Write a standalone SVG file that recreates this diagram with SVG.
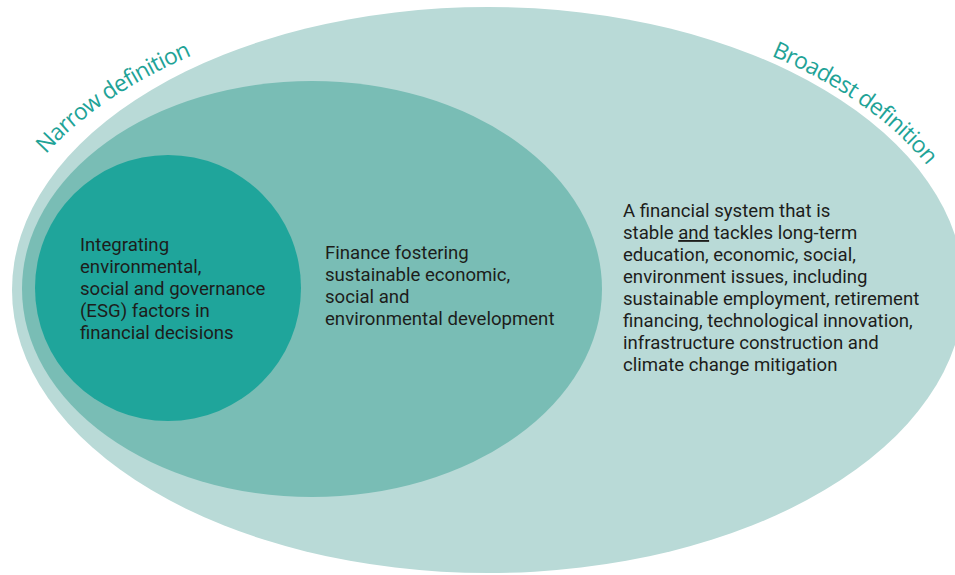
<svg xmlns="http://www.w3.org/2000/svg" xmlns:xlink="http://www.w3.org/1999/xlink" width="955" height="575" viewBox="0 0 955 575">
  <style>
    .body { font-family: Roboto, "Liberation Sans", sans-serif; font-size: 18.6px; fill: #1d1d1b; }
    .arc { font-family: "Open Sans", "Noto Sans", sans-serif; font-size: 23px; letter-spacing: -0.7px; fill: #1fa397; }
  </style>
  <defs>
    <path id="narrowPath" d="M -12 290 A 500 291 0 0 1 488 -1"/>
    <path id="broadPath" d="M 488 2 A 487 288 0 0 1 975 290"/>
  </defs>
  <rect width="955" height="575" fill="#ffffff"/>
  <g id="broadest">
    <ellipse cx="488" cy="290" rx="476" ry="283" fill="#b9dad7"/>
    <text class="body">
      <tspan x="623" y="217">A financial system that is</tspan>
      <tspan x="623" y="239">stable <tspan text-decoration="underline">and</tspan> tackles long-term</tspan>
      <tspan x="623" y="261">education, economic, social,</tspan>
      <tspan x="623" y="283">environment issues, including</tspan>
      <tspan x="623" y="305">sustainable employment, retirement</tspan>
      <tspan x="623" y="327">financing, technological innovation,</tspan>
      <tspan x="623" y="349">infrastructure construction and</tspan>
      <tspan x="623" y="371">climate change mitigation</tspan>
    </text>
    <text class="arc"><textPath xlink:href="#broadPath" href="#broadPath" startOffset="290">Broadest definition</textPath></text>
  </g>
  <g id="middle">
    <ellipse cx="312" cy="289" rx="290" ry="208" fill="#79bdb5"/>
    <text class="body">
      <tspan x="325" y="259">Finance fostering</tspan>
      <tspan x="325" y="281">sustainable economic,</tspan>
      <tspan x="325" y="303">social and</tspan>
      <tspan x="325" y="325">environmental development</tspan>
    </text>
  </g>
  <g id="narrow">
    <circle cx="168" cy="288" r="133" fill="#1fa59b"/>
    <text class="body">
      <tspan x="80" y="251">Integrating</tspan>
      <tspan x="80" y="273">environmental,</tspan>
      <tspan x="80" y="295">social and governance</tspan>
      <tspan x="80" y="317">(ESG) factors in</tspan>
      <tspan x="80" y="339">financial decisions</tspan>
    </text>
    <text class="arc"><textPath xlink:href="#narrowPath" href="#narrowPath" startOffset="151">Narrow definition</textPath></text>
  </g>
</svg>
